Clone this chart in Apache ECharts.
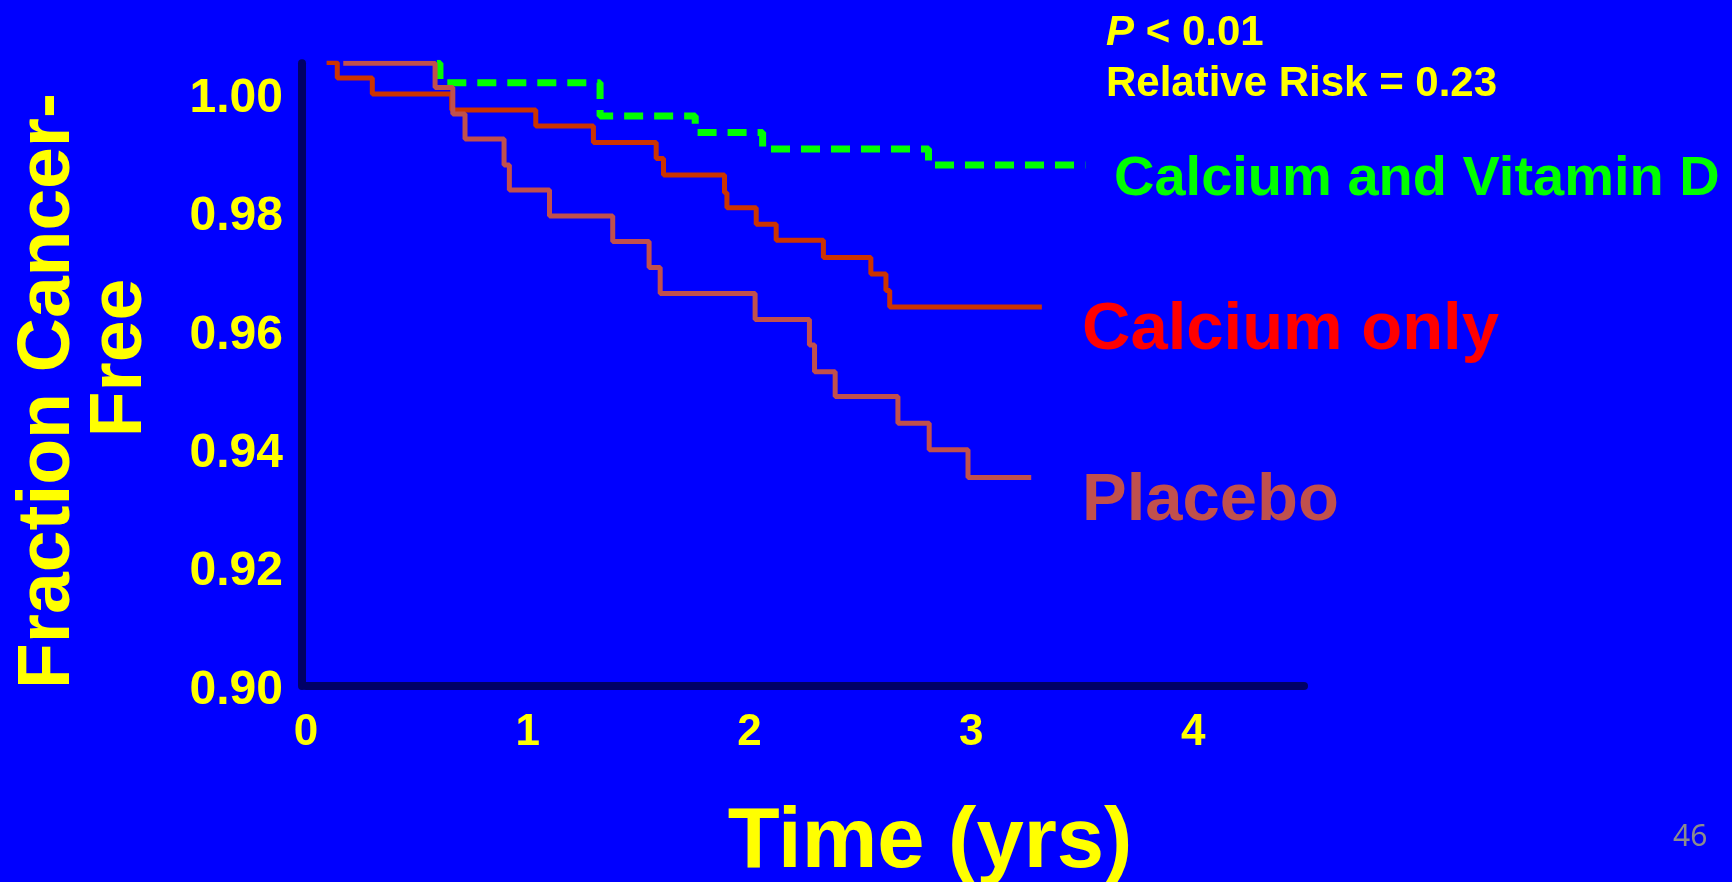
<!DOCTYPE html>
<html>
<head>
<meta charset="utf-8">
<script src="https://cdn.jsdelivr.net/npm/echarts@6/dist/echarts.min.js"></script>
<style>
html,body{margin:0;padding:0;background:#0000FF;}
#chart{width:1732px;height:882px;}
</style>
</head>
<body>
<div id="chart"></div>
<script>
// ---- data (years, fraction cancer-free) ----
const calciumVitDTimes  = [0.590, 0.604, 1.326, 1.755, 2.059, 2.807, 3.514];
const calciumVitDValues = [1.0052, 1.0019, 0.9963, 0.9935, 0.9907, 0.9880, 0.9880];

const calciumOnlyTimes  = [0.093, 0.141, 0.299, 0.657, 1.036, 1.296, 1.579, 1.612, 1.887, 1.898, 2.030, 2.120, 2.333, 2.547, 2.615, 2.632, 3.318];
const calciumOnlyValues = [1.0053, 1.0027, 1.0000, 0.9973, 0.9946, 0.9918, 0.9891, 0.9863, 0.9833, 0.9808, 0.9780, 0.9753, 0.9724, 0.9696, 0.9668, 0.9640, 0.9640];

const placeboTimes  = [0.168, 0.582, 0.662, 0.717, 0.893, 0.917, 1.098, 1.383, 1.547, 1.597, 2.025, 2.270, 2.293, 2.386, 2.669, 2.810, 2.985, 3.270];
const placeboValues = [1.0052, 1.0011, 0.9966, 0.9924, 0.9880, 0.9838, 0.9794, 0.9751, 0.9707, 0.9663, 0.9619, 0.9576, 0.9531, 0.9489, 0.9444, 0.9399, 0.9352, 0.9352];

const xTickLabels = ['0', '1', '2', '3', '4'];
const yTickLabels = ['0.90', '0.92', '0.94', '0.96', '0.98', '1.00'];

const seriesNames = ['Calcium and Vitamin D', 'Calcium only', 'Placebo'];
const xAxisTitle = 'Time (yrs)';
const yAxisTitleLines = ['Fraction Cancer-', 'Free'];
const statLines = ['P', ' < 0.01', 'Relative Risk = 0.23'];
const pageNumber = '46';

function pairs(t, v) { return t.map((x, i) => [x, v[i]]); }

const FONT = '"Liberation Sans", Arial, sans-serif';
const YELLOW = '#FFFF00';

const chart = echarts.init(document.getElementById('chart'), null, {renderer: 'canvas'});
chart.setOption({
  animation: false,
  backgroundColor: '#0000FF',
  grid: {left: 306, right: 428, top: 63.2, bottom: 196, containLabel: false},
  xAxis: {
    type: 'value', min: 0, max: 4.5, interval: 1,
    axisLine: {show: true, lineStyle: {color: '#000066', width: 8}},
    axisTick: {show: false},
    splitLine: {show: false},
    axisLabel: {
      color: YELLOW, fontFamily: FONT, fontWeight: 'bold', fontSize: 44, margin: 25,
      showMaxLabel: false,
      formatter: v => { const i = Math.round(v); return (Math.abs(v - i) < 1e-9 && xTickLabels[i] !== undefined) ? xTickLabels[i] : ''; }
    }
  },
  yAxis: {
    type: 'value', min: 0.90, max: 1.0052, interval: 0.02, offset: 4,
    axisLine: {show: true, onZero: false, lineStyle: {color: '#000066', width: 8}},
    axisTick: {show: false},
    splitLine: {show: false},
    axisLabel: {
      color: YELLOW, fontFamily: FONT, fontWeight: 'bold', fontSize: 48, margin: 19,
      showMaxLabel: false,
      rich: {t: {color: YELLOW, fontFamily: FONT, fontWeight: 'bold', fontSize: 48, padding: [9, 0, 0, 0]}},
      formatter: v => { const i = Math.round((v - 0.90) / 0.02); return (Math.abs(v - (0.90 + i * 0.02)) < 1e-6 && yTickLabels[i] !== undefined) ? '{t|' + yTickLabels[i] + '}' : ''; }
    }
  },
  series: [
    {
      name: seriesNames[0], type: 'line', step: 'end', symbol: 'none', z: 2,
      data: pairs(calciumVitDTimes, calciumVitDValues),
      lineStyle: {color: '#00FF00', width: 7, type: [19, 11], cap: 'butt'}
    },
    {
      name: seriesNames[1], type: 'line', step: 'end', symbol: 'none', z: 3,
      data: pairs(calciumOnlyTimes, calciumOnlyValues),
      lineStyle: {color: '#CC3300', width: 5}
    },
    {
      name: seriesNames[2], type: 'line', step: 'end', symbol: 'none', z: 4,
      data: pairs(placeboTimes, placeboValues),
      lineStyle: {color: '#C0504D', width: 5}
    }
  ],
  graphic: [
    {type: 'text', x: 1106, y: 54, style: {
      text: '{i|' + statLines[0] + '}{n|' + statLines[1] + '}',
      rich: {i: {fontFamily: FONT, fontWeight: 'bold', fontStyle: 'italic', fontSize: 42, fill: YELLOW},
             n: {fontFamily: FONT, fontWeight: 'bold', fontSize: 42, fill: YELLOW}},
      verticalAlign: 'bottom'}},
    {type: 'text', x: 1106, y: 105, style: {text: statLines[2], font: 'bold 42px ' + FONT, fill: YELLOW, verticalAlign: 'bottom'}},
    {type: 'text', x: 1114, y: 208, style: {text: seriesNames[0], font: 'bold 56px ' + FONT, fill: '#00FF00', verticalAlign: 'bottom'}},
    {type: 'text', x: 1082, y: 364, style: {text: seriesNames[1], font: 'bold 67px ' + FONT, fill: '#FF0000', verticalAlign: 'bottom'}},
    {type: 'text', x: 1082, y: 535, style: {text: seriesNames[2], font: 'bold 67px ' + FONT, fill: '#C0504D', verticalAlign: 'bottom'}},
    {type: 'text', x: 930, y: 886, style: {text: xAxisTitle, font: 'bold 85px ' + FONT, fill: YELLOW, align: 'center', verticalAlign: 'bottom'}},
    {type: 'text', x: 48, y: 391, rotation: Math.PI / 2, style: {text: yAxisTitleLines[0], font: 'bold 75px ' + FONT, fill: YELLOW, align: 'center', verticalAlign: 'middle'}},
    {type: 'text', x: 120, y: 358, rotation: Math.PI / 2, style: {text: yAxisTitleLines[1], font: 'bold 75px ' + FONT, fill: YELLOW, align: 'center', verticalAlign: 'middle'}},
    {type: 'text', x: 1673, y: 852, style: {text: pageNumber, font: '30px "Noto Sans", sans-serif', fill: '#8C8C8C', verticalAlign: 'bottom'}}
  ]
});
</script>
</body>
</html>
